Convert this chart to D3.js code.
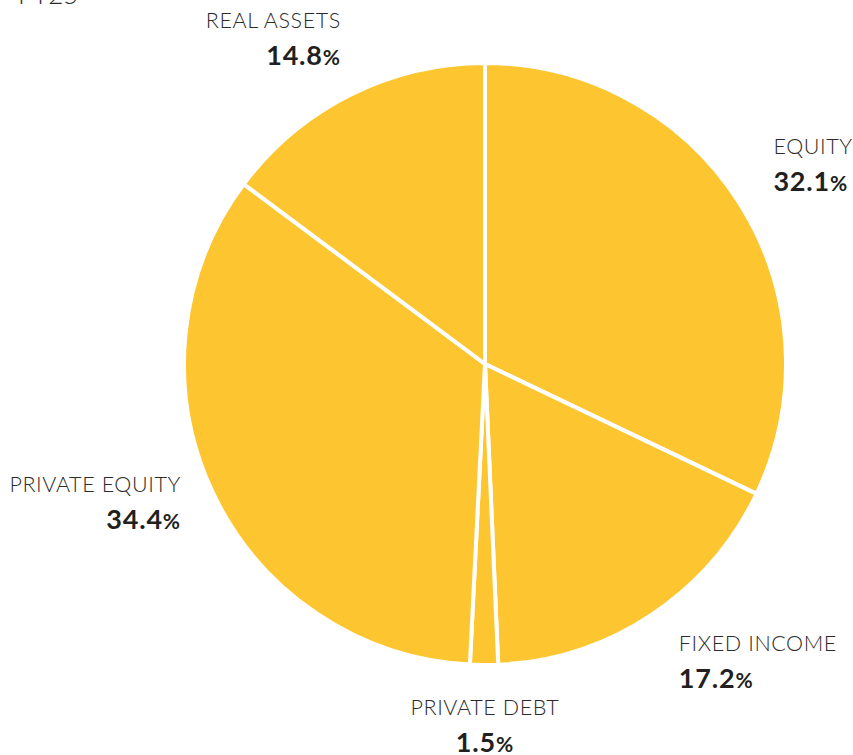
<!DOCTYPE html>
<html>
<head>
<meta charset="utf-8">
<script src="https://cdn.jsdelivr.net/npm/d3@7"></script>
<style>
  html, body { margin: 0; padding: 0; background: #ffffff; }
  svg { display: block; }
</style>
</head>
<body>
<svg id="chart" width="853" height="755"></svg>
<script>
const categories = ["EQUITY", "FIXED INCOME", "PRIVATE DEBT", "PRIVATE EQUITY", "REAL ASSETS"];
const values = [32.1, 17.2, 1.5, 34.4, 14.8];
const valueLabels = ["32.1", "17.2", "1.5", "34.4", "14.8"];
const title = "FY25";

const width = 853, height = 755;
const cx = 485, cy = 364, radius = 301;
const fill = "#FDC52F";

const svg = d3.select("#chart");

const data = categories.map((c, i) => ({ name: c, value: values[i], label: valueLabels[i] }));

const pie = d3.pie().value(d => d.value).sort(null);
const arcs = pie(data);
const arc = d3.arc().innerRadius(0).outerRadius(radius);

const g = svg.append("g").attr("transform", `translate(${cx},${cy})`);
g.selectAll("path").data(arcs).join("path")
  .attr("d", arc)
  .attr("fill", fill)
  .attr("stroke", "#ffffff")
  .attr("stroke-width", 4)
  .attr("stroke-linejoin", "round");

// label layout tweaks (relative to anchor point on label radius)
const labelR = 335;
const layout = {
  "EQUITY":         { anchor: "start",  dx: 5,  dy: -31 },
  "FIXED INCOME":   { anchor: "start",  dx: 9,  dy: 8 },
  "PRIVATE DEBT":   { anchor: "middle", dx: 1,  dy: 16 },
  "PRIVATE EQUITY": { anchor: "end",    dx: -1, dy: -15 },
  "REAL ASSETS":    { anchor: "end",    dx: 6,  dy: -37 }
};

const labels = svg.append("g");
arcs.forEach(a => {
  const mid = (a.startAngle + a.endAngle) / 2;
  const ax = cx + labelR * Math.sin(mid);
  const ay = cy - labelR * Math.cos(mid);
  const L = layout[a.data.name];
  const x = ax + L.dx, y = ay + L.dy;
  labels.append("text")
    .attr("x", x).attr("y", y)
    .attr("text-anchor", L.anchor)
    .attr("font-family", "Lato, 'Open Sans', sans-serif")
    .attr("font-weight", 300)
    .attr("font-size", 21.5)
    .attr("letter-spacing", 0.6)
    .attr("fill", "#2b2b2b")
    .text(a.data.name);
  const t = labels.append("text")
    .attr("x", x).attr("y", y + 37)
    .attr("text-anchor", L.anchor)
    .attr("font-family", "Lato, 'Open Sans', sans-serif")
    .attr("font-weight", 700)
    .attr("font-size", 27)
    .attr("letter-spacing", 0.8)
    .attr("fill", "#231f20");
  t.append("tspan").text(a.data.label);
  t.append("tspan").attr("font-size", 21).text("%");
});

svg.append("text")
  .attr("x", 18).attr("y", 4)
  .attr("font-family", "Lato, 'Open Sans', sans-serif")
  .attr("font-weight", 300)
  .attr("font-size", 26)
  .attr("fill", "#2b2b2b")
  .text(title);
</script>
</body>
</html>
